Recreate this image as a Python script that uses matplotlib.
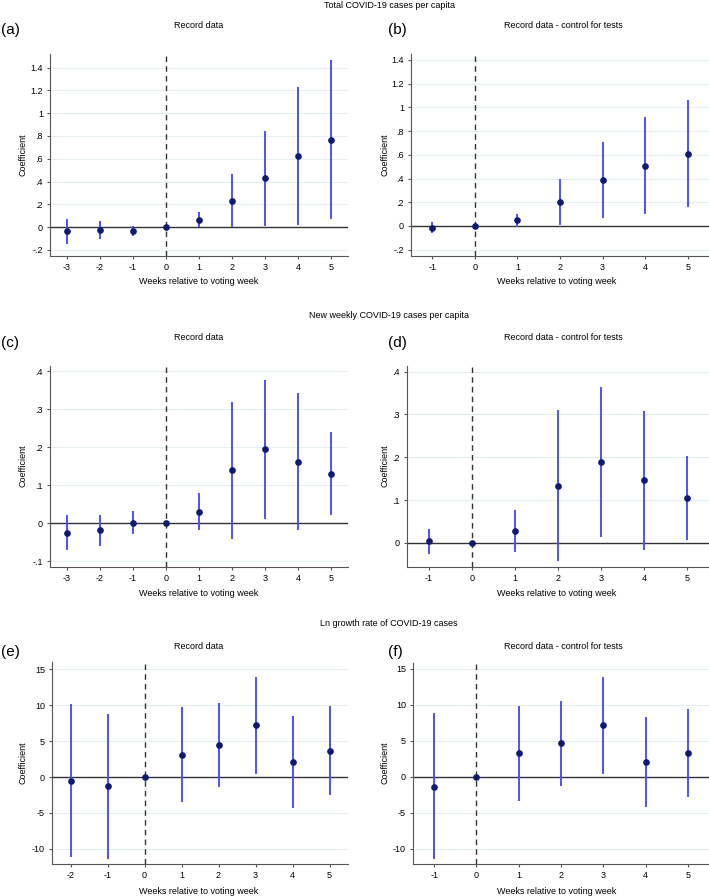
import numpy as np
import matplotlib
matplotlib.use("Agg")
import matplotlib.pyplot as plt
from matplotlib.ticker import FuncFormatter

plt.rcParams['font.family'] = ['Liberation Sans', 'DejaVu Sans']
plt.rcParams['axes.unicode_minus'] = False

# ---- data (coefficients and 95% CI) ----
weeks_a = [-3, -2, -1, 0, 1, 2, 3, 4, 5]
coef_a = [-0.035, -0.026, -0.035, 0.0, 0.064, 0.231, 0.427, 0.626, 0.766]
lo_a = [-0.146, -0.105, -0.082, 0.0, 0.0, 0.0, 0.012, 0.015, 0.067]
hi_a = [0.073, 0.050, 0.006, 0.0, 0.129, 0.462, 0.842, 1.234, 1.468]

weeks_b = [-1, 0, 1, 2, 3, 4, 5]
coef_b = [-0.014, 0.0, 0.048, 0.205, 0.391, 0.509, 0.610]
lo_b = [-0.062, 0.0, -0.006, 0.008, 0.070, 0.101, 0.163]
hi_b = [0.031, 0.0, 0.098, 0.394, 0.708, 0.919, 1.063]

weeks_c = [-3, -2, -1, 0, 1, 2, 3, 4, 5]
coef_c = [-0.0246, -0.0175, 0.002, 0.0, 0.031, 0.139, 0.195, 0.162, 0.130]
lo_c = [-0.070, -0.059, -0.027, 0.0, -0.0175, -0.041, 0.0105, -0.018, 0.022]
hi_c = [0.021, 0.023, 0.032, 0.0, 0.080, 0.318, 0.377, 0.344, 0.239]

weeks_d = [-1, 0, 1, 2, 3, 4, 5]
coef_d = [0.004, 0.0, 0.028, 0.134, 0.188, 0.146, 0.106]
lo_d = [-0.025, 0.0, -0.020, -0.042, 0.015, -0.016, 0.008]
hi_d = [0.033, 0.0, 0.077, 0.311, 0.363, 0.308, 0.204]

weeks_e = [-2, -1, 0, 1, 2, 3, 4, 5]
coef_e = [-0.51, -1.30, 0.0, 3.12, 4.47, 7.17, 2.05, 3.63]
lo_e = [-11.18, -11.46, 0.0, -3.54, -1.44, 0.42, -4.28, -2.47]
hi_e = [10.15, 8.80, 0.0, 9.78, 10.34, 13.93, 8.43, 9.83]

weeks_f = [-1, 0, 1, 2, 3, 4, 5]
coef_f = [-1.35, 0.0, 3.30, 4.64, 7.15, 2.04, 3.34]
lo_f = [-11.43, 0.0, -3.34, -1.21, 0.46, -4.23, -2.79]
hi_f = [8.82, 0.0, 9.89, 10.50, 13.84, 8.31, 9.48]

yticks_ab = [-0.2, 0, 0.2, 0.4, 0.6, 0.8, 1.0, 1.2, 1.4]
yticks_c = [-0.1, 0, 0.1, 0.2, 0.3, 0.4]
yticks_d = [0, 0.1, 0.2, 0.3, 0.4]
yticks_ef = [-10, -5, 0, 5, 10, 15]

W, H = 709, 896
fig = plt.figure(figsize=(W / 100, H / 100), dpi=100)


def px(x, y):
    return x / W, 1 - y / H


def stata_fmt(v, pos):
    s = ('%.1f' % v).rstrip('0').rstrip('.')
    if s in ('-0', ''):
        s = '0'
    if s.startswith('0.'):
        s = s[1:]
    s = s.replace('-0.', '-.')
    return s


def panel(box, weeks, coef, lo, hi, xlim, ylim, yticks):
    l, t, r, b = box
    ax = fig.add_axes([l / W, 1 - b / H, (r - l) / W, (b - t) / H])
    weeks = np.array(weeks)
    coef = np.array(coef)
    lo = np.array(lo)
    hi = np.array(hi)
    mask = weeks != 0
    ax.set_xlim(*xlim)
    ax.set_ylim(*ylim)
    ax.set_yticks(yticks)
    ax.set_xticks(weeks)
    ax.yaxis.set_major_formatter(FuncFormatter(stata_fmt))
    for y in yticks:
        ax.axhline(y, color='#e4eef0', lw=0.8, zorder=0)
    ax.axhline(0, color='#333333', lw=1.0, zorder=1)
    ax.axvline(0, color='#333333', lw=1.0, ls=(0, (4, 3)), zorder=1)
    ax.vlines(weeks[mask], lo[mask], hi[mask], color='#4f4fff', lw=1.4, zorder=2)
    ax.plot(weeks, coef, 'o', color='#0d1a70', ms=3.8, zorder=3)
    for s in ('top', 'right'):
        ax.spines[s].set_visible(False)
    for s in ('left', 'bottom'):
        ax.spines[s].set_color('#555555')
        ax.spines[s].set_linewidth(0.8)
    ax.tick_params(labelsize=6.5, length=2.5, width=0.8, color='#555555', pad=2.5)
    return ax


xa = (-3.5, 5.5)
xb = (-1.5, 5.5)
xe = (-2.5, 5.5)

panel((50, 54, 348, 256), weeks_a, coef_a, lo_a, hi_a, xa, (-0.254, 1.52), yticks_ab)
panel((411, 54, 709, 256), weeks_b, coef_b, lo_b, hi_b, xb, (-0.253, 1.45), yticks_ab)
panel((50, 366, 348, 567), weeks_c, coef_c, lo_c, hi_c, xa, (-0.115, 0.414), yticks_c)
panel((407, 366, 709, 567), weeks_d, coef_d, lo_d, hi_d, xb, (-0.056, 0.413), yticks_d)
panel((52, 662, 348, 864), weeks_e, coef_e, lo_e, hi_e, xe, (-12.1, 16.0), yticks_ef)
panel((413, 663, 709, 864), weeks_f, coef_f, lo_f, hi_f, xb, (-12.1, 15.8), yticks_ef)

# row titles
row_titles = ['Total COVID-19 cases per capita',
              'New weekly COVID-19 cases per capita',
              'Ln growth rate of COVID-19 cases']
for txt, y in zip(row_titles, [5, 316, 624]):
    fig.text(*px(389, y), txt, ha='center', va='center', fontsize=6.5)

# panel titles, letters, axis labels
letters = ['(a)', '(b)', '(c)', '(d)', '(e)', '(f)']
sub = ['Record data', 'Record data - control for tests']
title_y = [26, 338, 646]
letter_y = [30, 343, 652]
xlab_y = [282, 593, 891]
ylab_c = [155, 466, 763]
for i in range(3):
    for j, (cx, lx, yx) in enumerate([(199, 1, 23), (563, 388, 385)]):
        fig.text(*px(cx, title_y[i]), sub[j], ha='center', va='center', fontsize=6.5)
        fig.text(*px(lx, letter_y[i]), letters[2 * i + j], ha='left', va='center', fontsize=11)
        xc = 199 if j == 0 else 557
        fig.text(*px(xc, xlab_y[i]), 'Weeks relative to voting week', ha='center', va='center', fontsize=6.5)
        fig.text(*px(yx, ylab_c[i]), 'Coefficient', ha='center', va='center', rotation=90, fontsize=6.5)

fig.savefig('out.png', dpi=100, facecolor='white')
